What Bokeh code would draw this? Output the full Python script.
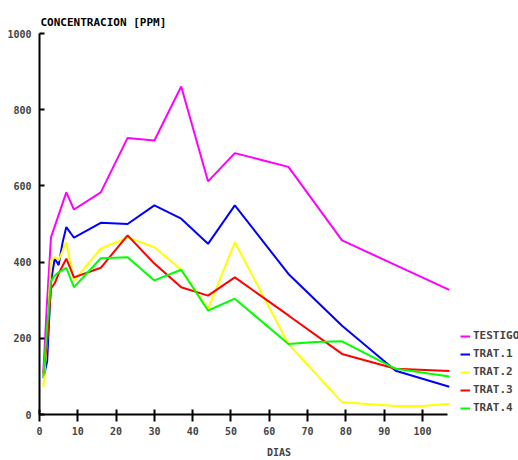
from bokeh.plotting import figure
from bokeh.models import Range1d, Legend, LegendItem, FixedTicker, Title
from bokeh.embed import file_html
from bokeh.resources import INLINE

# ---- data ----
days_testigo = [1, 2, 3, 7, 9, 16, 23, 30, 37, 44, 51, 58, 65, 79, 93, 107]
testigo = [110, 300, 465, 583, 538, 583, 726, 719, 861, 612, 686, 668, 650, 457, 392, 327]

days_t1 = [1, 2, 3, 4, 5, 6, 7, 9, 16, 23, 30, 37, 44, 51, 65, 79, 93, 107]
trat1 = [95, 140, 350, 410, 392, 450, 492, 464, 503, 500, 549, 514, 448, 549, 369, 233, 115, 73]

days_t2 = [1, 2, 3, 4, 5, 7, 9, 16, 23, 30, 37, 44, 51, 65, 79, 93, 100, 107]
trat2 = [72, 200, 404, 413, 405, 452, 352, 435, 465, 439, 380, 277, 452, 185, 32, 22, 22, 28]

days_t3 = [1, 2, 3, 4, 5, 7, 9, 16, 23, 30, 37, 44, 51, 65, 79, 93, 107]
trat3 = [105, 195, 330, 345, 370, 409, 360, 385, 470, 396, 334, 312, 360, 260, 159, 120, 114]

days_t4 = [1, 2, 3, 4, 5, 7, 9, 16, 23, 30, 37, 44, 51, 65, 72, 79, 93, 107]
trat4 = [100, 230, 350, 365, 373, 385, 334, 410, 413, 352, 380, 273, 304, 185, 190, 192, 120, 100]

series_names = ["TESTIGO", "TRAT.1", "TRAT.2", "TRAT.3", "TRAT.4"]
x_ticks = [0, 10, 20, 30, 40, 50, 60, 70, 80, 90, 100]
y_ticks = [0, 200, 400, 600, 800, 1000]

title_text = "CONCENTRACION [PPM]"
x_label = "DIAS"

colors = ["#FF00FF", "#0000FF", "#FFFF00", "#FF0000", "#00FF00"]
FONT = "DejaVu Sans Mono"

p = figure(width=518, height=460, output_backend="svg", toolbar_location=None,
           x_range=Range1d(0, 125.07), y_range=Range1d(0, 1000),
           min_border_left=39, min_border_right=0, min_border_bottom=46,
           min_border_top=33)
p.title = Title(text=title_text, align="left", text_font=FONT,
                text_font_size="11px", text_font_style="bold", text_color="black",
                offset=1, standoff=9)
p.outline_line_color = None
p.xgrid.visible = False
p.ygrid.visible = False
p.background_fill_color = "white"
p.border_fill_color = "white"

data = [(days_testigo, testigo), (days_t1, trat1), (days_t2, trat2),
        (days_t3, trat3), (days_t4, trat4)]
items = []
for (d, v), c, n in zip(data, colors, series_names):
    r = p.line(d, v, line_color=c, line_width=2)
    items.append(LegendItem(label=n, renderers=[r]))

# axes
xa = p.xaxis[0]
xa.bounds = (0, 106.6)
xa.ticker = FixedTicker(ticks=x_ticks)
xa.axis_line_width = 2
xa.major_tick_line_width = 2
xa.major_tick_in = 5
xa.major_tick_out = 7
xa.minor_tick_line_color = None
xa.major_label_text_font = FONT
xa.major_label_text_font_style = "bold"
xa.major_label_text_font_size = "10px"
xa.major_label_standoff = 5
xa.axis_label = x_label
xa.axis_label_text_font = FONT
xa.axis_label_text_font_style = "bold"
xa.axis_label_text_font_size = "10px"
xa.axis_label_standoff = 9

ya = p.yaxis[0]
ya.ticker = FixedTicker(ticks=y_ticks)
ya.axis_line_width = 2
ya.major_tick_line_width = 2
ya.major_tick_in = 5
ya.major_tick_out = 0
ya.minor_tick_line_color = None
ya.major_label_text_font = FONT
ya.major_label_text_font_style = "bold"
ya.major_label_text_font_size = "10px"
ya.major_label_standoff = 8

legend = Legend(items=items, location=(421, 0), glyph_width=10, glyph_height=12,
                label_height=12, spacing=5, label_standoff=3, padding=0, margin=0,
                border_line_color=None, background_fill_alpha=0,
                label_text_font=FONT, label_text_font_style="bold",
                label_text_font_size="11px")
p.add_layout(legend, "center")

open("out.html", "w").write(file_html(p, INLINE))
